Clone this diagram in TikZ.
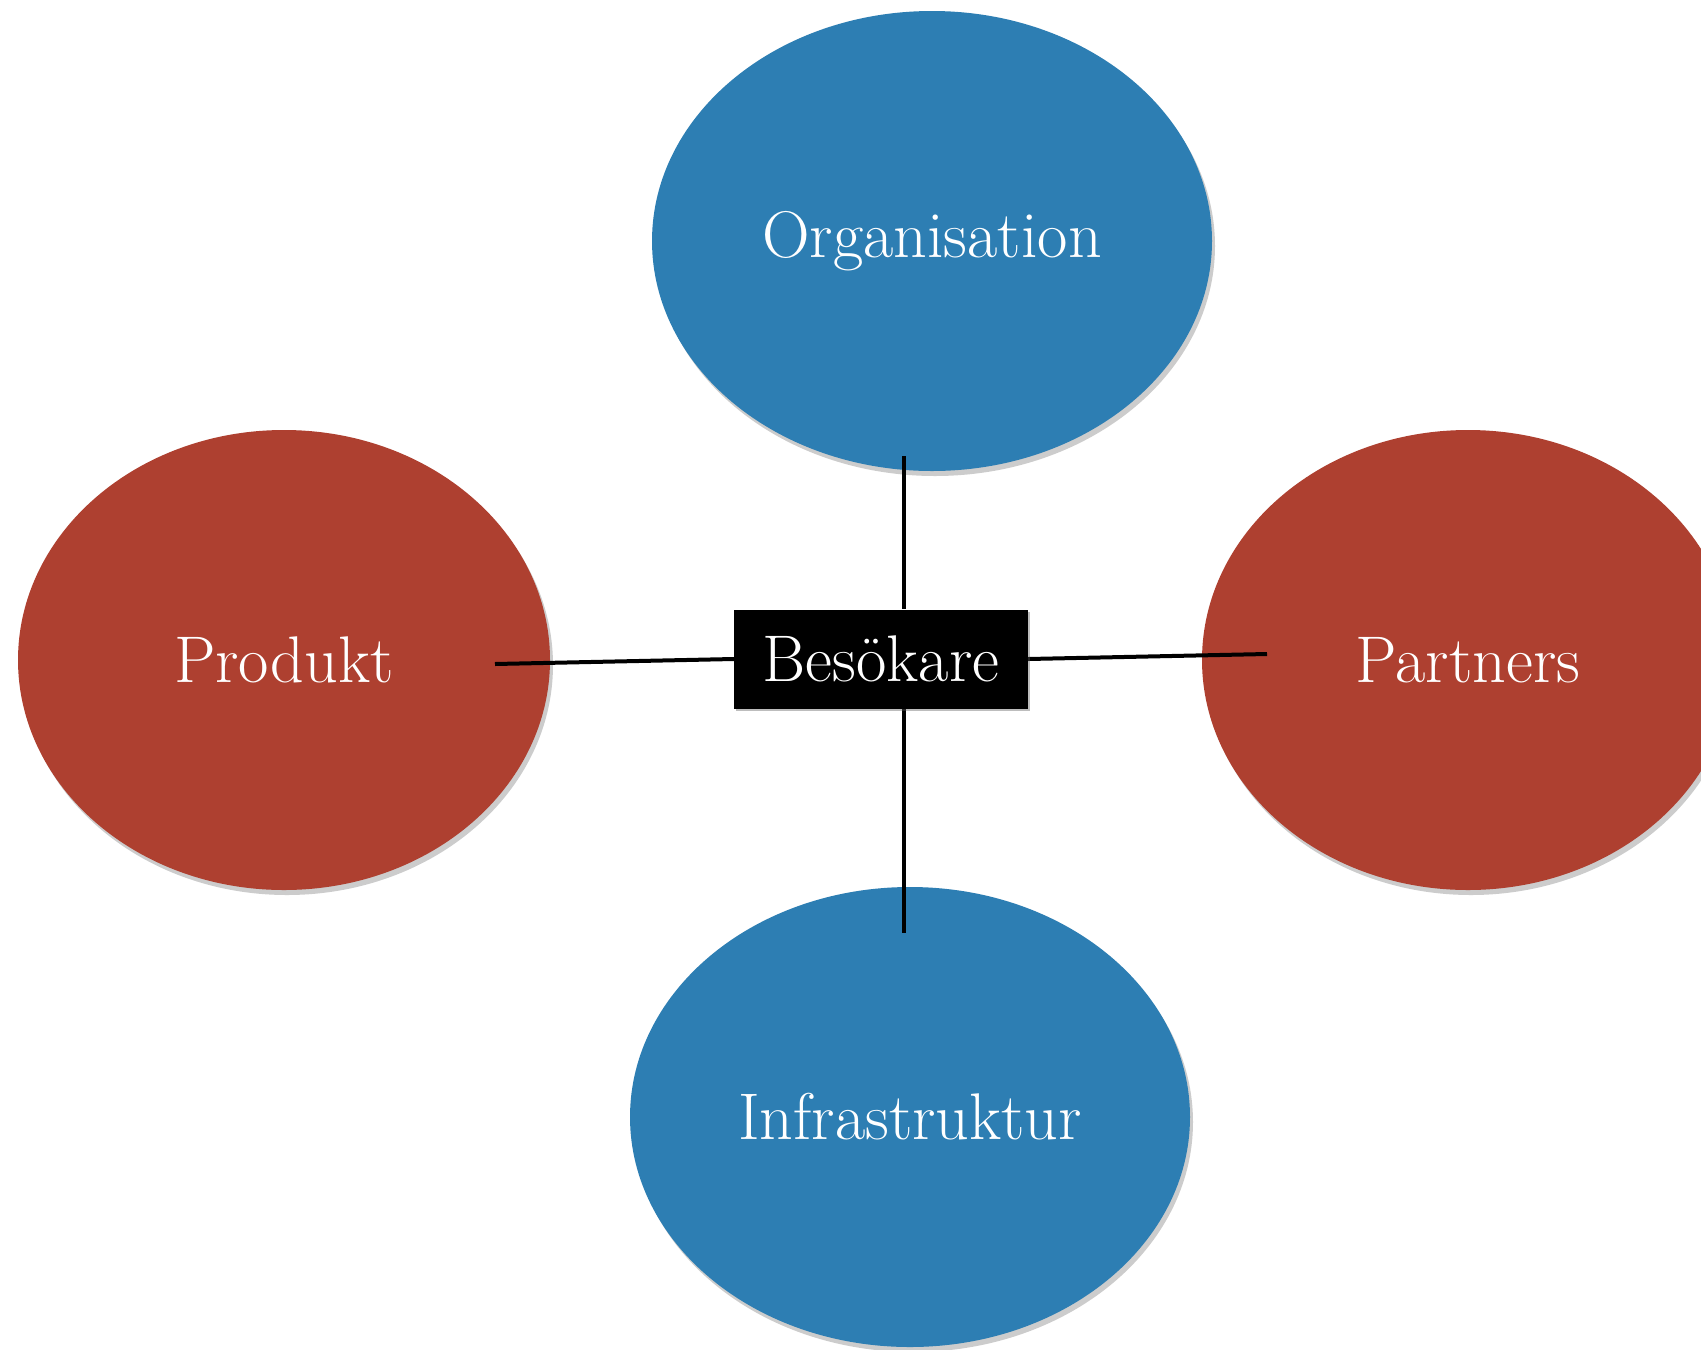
\documentclass[tikz,border=0pt]{standalone}
\usetikzlibrary{shapes.geometric,shadows}
\definecolor{cblue}{RGB}{45,126,179}
\definecolor{cred}{RGB}{174,64,48}
\pgfdeclareradialshading{bgshade}{\pgfpoint{0bp}{0bp}}{color(0bp)=(white); color(38bp)=(white); color(72bp)=(black!8)}
\tikzset{
  bubble/.style={ellipse, inner sep=0pt, text=white, font=\fontsize{66}{78}\selectfont,
    drop shadow={shadow xshift=3pt, shadow yshift=-5pt, opacity=0.4}},
  bluebub/.style={bubble, fill=cblue, minimum width=560pt, minimum height=460pt},
  redbub/.style={bubble, fill=cred, minimum width=532pt, minimum height=460pt},
  centerbox/.style={rectangle, fill=black, text=white, inner sep=0pt,
    minimum width=294pt, minimum height=99pt, font=\fontsize{66}{78}\selectfont,
    drop shadow={shadow xshift=2pt, shadow yshift=-2pt, opacity=0.3}},
  link/.style={line width=4pt, black}
}
\begin{document}
\begin{tikzpicture}[x=1pt,y=-1pt]
  \path[use as bounding box, shading=bgshade] (0,0) rectangle (1701,1350);
  \node[bluebub] (org) at (932,241) {Organisation};
  \node[redbub] (prod) at (284,660) {Produkt};
  \node[redbub] (part) at (1468,660) {Partners};
  \node[bluebub] (infra) at (910,1117) {Infrastruktur};
  \node[centerbox] (bes) at (881,659) {Besökare};
  \coordinate (ot) at (904,456);
  \coordinate (ib) at (904,933);
  \coordinate (pl) at (495,664);
  \coordinate (pr) at (1267,654);
  \draw[link] (ot) -- (ot |- bes.north);
  \draw[link] (ib |- bes.south) -- (ib);
  \draw[link] (pl) -- (bes.west);
  \draw[link] (bes.east) -- (pr);
  \node[centerbox] at (bes) {Besökare};
\end{tikzpicture}
\end{document}
